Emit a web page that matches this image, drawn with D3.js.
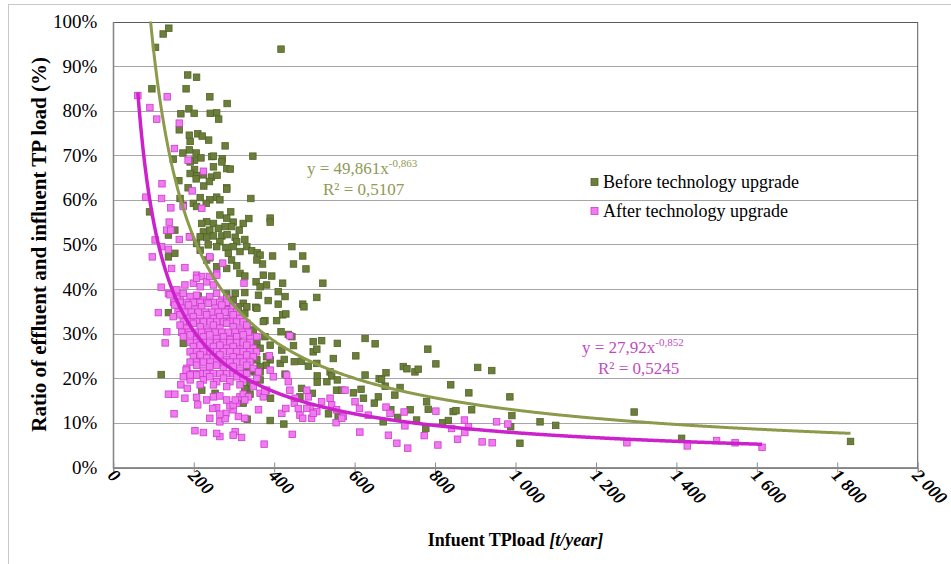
<!DOCTYPE html>
<html>
<head>
<meta charset="utf-8">
<script src="https://cdn.jsdelivr.net/npm/d3@7"></script>
<style>
	body { margin: 0; background: #fff; }
	svg { display: block; font-family: "Liberation Serif", "Times New Roman", serif; }
</style>
</head>
<body>
<div id="chart"></div>
<script>
// Ratio (%) of effluent/influent TP load vs influent TP load (t/year)
var before = [
	[124,97.2],[138,98.5],[105,94.2],[417,93.8],[96,84.9],[185,88.0],[207,87.5],[181,84.9],[240,83.1],[283,81.6],
	[188,80.4],[201,79.4],[168,79.3],[241,79.4],[257,79.5],[262,78.1],[164,75.7],[189,74.5],[210,74.8],[221,74.3],
	[237,73.4],[278,72.1],[191,73.1],[189,71.2],[173,70.5],[149,69.1],[206,70.5],[218,69.4],[245,69.7],[249,69.8],
	[271,69.2],[270,68.5],[347,69.8],[202,68.9],[191,68.5],[202,66.8],[249,67.4],[282,67.0],[291,66.9],[191,65.9],
	[207,65.4],[224,65.6],[244,65.1],[258,65.5],[163,64.3],[206,64.7],[239,64.1],[225,63.1],[186,62.7],[282,62.7],
	[342,60.3],[282,62.4],[216,60.5],[257,60.6],[265,60.0],[240,60.0],[231,59.2],[199,59.2],[207,58.5],[166,60.3],
	[174,58.8],[292,57.3],[337,55.8],[390,55.9],[390,55.0],[323,54.7],[313,53.2],[298,55.0],[282,55.9],[265,56.6],
	[249,54.7],[232,55.1],[220,54.7],[240,53.2],[261,53.6],[278,54.0],[294,54.0],[224,52.8],[216,51.7],[232,51.6],
	[249,51.9],[270,51.9],[283,52.2],[303,51.6],[327,51.1],[307,50.6],[265,50.6],[191,51.7],[207,50.2],[236,49.9],
	[257,49.5],[280,49.3],[298,49.5],[332,49.5],[444,49.5],[315,48.4],[344,48.6],[358,48.1],[365,47.6],[396,47.4],
	[471,47.4],[286,48.0],[240,47.0],[216,48.7],[153,48.0],[137,47.2],[448,45.6],[479,44.5],[371,45.6],[357,46.5],
	[294,46.5],[307,45.2],[282,44.6],[257,45.0],[315,43.5],[327,42.9],[373,43.1],[394,42.9],[355,41.6],[365,40.5],
	[381,40.9],[421,41.3],[521,41.3],[506,38.1],[410,39.4],[427,38.3],[385,37.4],[303,39.0],[327,39.2],[323,36.8],
	[332,36.0],[410,36.6],[471,36.6],[474,36.0],[361,38.6],[283,36.0],[421,34.2],[429,34.4],[290,34.7],[377,32.9],
	[406,32.9],[417,30.4],[444,29.3],[497,28.2],[518,28.4],[557,27.8],[626,28.9],[651,27.7],[137,34.7],[90,57.3],
	[137,52.1],[153,53.2],[232,46.5],
	[119,20.8],[354,35.9],[435,29.8],[448,27.3],[419,26.3],[390,27.4],[377,29.3],[357,28.2],[348,25.6],[497,25.9],
	[506,26.5],[450,23.7],[468,23.8],[485,22.7],[506,23.3],[547,24.4],[603,25.0],[415,23.3],[425,24.2],[427,20.9],
	[390,24.1],[380,22.9],[365,22.6],[352,21.4],[332,21.4],[507,20.5],[539,21.4],[543,20.5],[557,19.6],[531,19.2],
	[507,19.1],[626,20.7],[661,19.9],[678,21.2],[676,18.2],[721,22.6],[730,22.1],[750,21.4],[758,22.0],[713,17.9],
	[700,16.2],[659,15.8],[649,14.4],[616,17.5],[555,17.3],[597,16.7],[622,15.5],[468,17.7],[495,16.6],[464,15.8],
	[391,15.5],[535,12.0],[559,11.4],[671,10.2],[707,11.2],[738,12.9],[424,9.7],[390,10.5],[333,10.8],[332,17.7],
	[326,15.8],[220,17.3],[207,24.5],[311,29.3],[327,34.5],
	[211,38.4],[282,38.9],[298,37.5],[311,36.0],[357,35.7],[332,32.3],[348,30.8],[373,32.7],[340,28.6],[365,26.7],
	[381,24.8],[357,24.1],[340,21.8],[365,21.4],[307,28.9],[174,27.8],[203,24.8],[340,18.8],[327,17.7],[365,19.6],
	[253,16.6],[340,16.4],[568,17.3],[323,14.4],
	[782,26.5],[802,23.2],[906,22.4],[941,21.7],[839,18.5],[884,16.7],[986,15.8],[779,14.7],[783,13.0],[891,12.9],
	[667,19.7],[690,12.9],[754,10.6],[777,8.7],[819,10.0],[833,10.5],[845,12.5],[852,12.7],[991,11.6],[988,9.1],
	[1061,10.2],[1100,9.4],[1011,5.4],[1295,12.4],[1413,6.5],[1833,5.8]
];

var after = [
	[61,83.4],[91,80.7],[134,83.1],[108,78.1],[164,77.2],[152,71.5],[186,68.9],[224,66.4],[196,62.0],[121,63.6],
	[120,60.3],[81,60.6],[143,58.2],[174,58.5],[139,55.0],[133,53.2],[143,53.2],[164,51.1],[104,51.0],[120,49.5],
	[137,48.9],[97,47.2],[145,44.6],[178,44.8],[119,40.4],[207,43.1],[220,42.8],[272,45.8],[325,41.3],[137,39.0],
	[112,34.7],[133,30.4],[129,27.9],[439,29.5],[220,58.1],
	[158,39.8],[178,40.9],[199,41.3],[216,40.5],[232,41.6],[249,40.9],[207,42.4],[240,42.8],[257,43.5],[166,38.3],
	[189,51.7],[240,47.2],[257,43.1],
	[141,38.7],[158,37.9],[174,39.0],[191,38.3],[207,38.6],[224,37.5],[240,38.3],[257,39.0],[270,37.5],[282,37.9],
	[150,37.0],[166,37.0],[183,37.0],[199,37.0],[216,37.0],[232,37.0],[249,37.0],[265,37.0],[282,37.0],
	[153,36.4],[170,35.7],[187,36.4],[203,35.3],[220,36.0],[236,36.8],[253,35.7],[270,36.4],[286,35.3],[298,36.0],
	[161,34.8],[178,34.8],[194,34.8],[211,34.8],[228,34.8],[245,34.8],[261,34.8],[278,34.8],[294,34.8],[307,34.8],
	[149,33.8],[166,34.2],[183,33.4],[199,33.8],[216,33.0],[232,34.2],[249,33.4],[265,33.8],[282,33.0],[298,34.2],[315,33.4],
	[174,32.6],[191,32.6],[207,32.6],[224,32.6],[241,32.6],[257,32.6],[274,32.6],[290,32.6],[307,32.6],[323,32.6],
	[166,31.9],[183,31.2],[199,32.3],[216,31.5],[232,30.8],[249,31.9],[265,31.2],[282,32.3],[298,31.5],[315,30.8],[332,31.9],
	[170,30.3],[187,30.3],[203,30.3],[220,30.3],[236,30.3],[253,30.3],[270,30.3],[286,30.3],[303,30.3],[320,30.3],[336,30.3],
	[174,29.3],[191,29.7],[207,28.6],[224,29.3],[240,29.7],[257,28.9],[274,29.3],[290,28.6],[307,29.3],[323,29.7],[340,28.9],[357,29.3],
	[191,28.0],[207,28.0],[224,28.0],[240,28.0],[257,28.0],[274,28.0],[290,28.0],[307,28.0],[323,28.0],[340,28.0],
	[199,27.1],[216,27.4],[232,26.3],[249,27.1],[265,27.4],[282,26.7],[298,27.1],[315,26.3],[332,27.4],[348,26.7],
	[191,25.9],[207,25.9],[224,25.9],[241,25.9],[257,25.9],[274,25.9],[290,25.9],[307,25.9],[323,25.9],[340,25.9],[356,25.9],
	[199,24.8],[216,25.2],[232,24.5],[249,24.8],[265,25.2],[282,24.1],[298,24.8],[315,24.5],[332,25.2],[348,24.8],
	[191,23.6],[207,23.6],[224,23.6],[241,23.6],[257,23.6],[274,23.6],[290,23.6],[307,23.6],[323,23.6],[340,23.6],
	[183,22.2],[207,22.9],[224,21.8],[240,22.6],[257,22.9],[274,22.2],[298,22.6],[315,21.8],[332,22.9],[348,22.2],
	[183,21.0],[199,21.0],[216,21.0],[232,21.0],[249,21.0],[265,21.0],[282,21.0],[298,21.0],[315,21.0],[332,21.0],
	[174,20.3],[191,19.6],[207,20.7],[224,19.6],[240,20.3],[257,19.2],[274,20.0],[290,19.2],[307,20.3],[323,19.6],[357,20.0],
	[216,18.5],[249,18.5],[282,18.1],[315,18.5],
	[181,21.8],[191,20.7],[168,18.5],[184,17.7],[137,16.4],[153,16.4],[178,15.5],[207,15.7],[210,14.0],[151,12.0],
	[232,15.1],[249,15.8],[265,16.0],[257,13.4],[247,13.2],[280,12.1],[240,11.0],[265,10.2],[278,10.9],[298,12.9],
	[307,14.4],[315,15.8],[323,16.4],[336,15.8],[290,13.8],[311,11.4],[327,11.0],[361,12.9],[365,16.6],[348,18.1],
	[381,17.3],[398,20.3],[390,21.8],[435,19.2],[439,17.3],[419,12.1],[429,13.2],[450,14.4],[460,13.2],[464,11.7],
	[471,11.0],[485,15.8],[489,13.6],[493,11.0],[506,12.5],[481,17.3],[539,15.5],[543,14.0],[555,12.9],[554,10.0],
	[576,17.3],[572,11.4],[601,14.7],[612,13.2],[613,7.9],[634,11.7],[678,13.5],[688,12.1],[723,12.4],[725,9.3],
	[684,7.2],[705,5.4],[732,4.3],[445,7.4],[375,5.2],[319,6.7],[303,8.0],[298,7.2],[265,6.9],[257,7.6],
	[224,7.8],[203,8.2],[373,15.8],[388,25.0],[361,21.4],[431,20.7],
	[265,11.9],[282,15.1],[298,14.0],[303,15.1],[327,15.1],[377,17.0],[452,15.5],[481,13.2],[497,12.1],[518,14.7],[568,11.0],
	[773,7.1],[802,12.6],[807,5.0],[841,8.7],[856,6.3],[873,10.6],[874,7.8],[883,9.1],[917,5.7],[942,5.5],
	[953,10.2],[981,9.7],[1277,5.5],[1427,4.8],[1500,6.0],[1546,5.5],[1613,4.5]
];

// power trendlines y = a * x^b (y as a fraction)
var fitBefore = [49.861, -0.863];
var fitAfter = [27.92, -0.852];
var eqBefore = ["y = 49,861x", "-0,863", "R\u00b2 = 0,5107"];
var eqAfter = ["y = 27,92x", "-0,852", "R\u00b2 = 0,5245"];

var xTicks = [0, 200, 400, 600, 800, 1000, 1200, 1400, 1600, 1800, 2000];
var yTicks = [0, 10, 20, 30, 40, 50, 60, 70, 80, 90, 100];
var legendLabels = ["Before technology upgrade", "After technology upgrade"];

var width = 951;
var height = 564;
var margin = { top: 21.5, right: 33.3, bottom: 96.7, left: 113.3 };

var svg = d3.select("#chart").append("svg")
	.attr("width", width)
	.attr("height", height);

// outer chart frame (only top/left edges fall inside the picture)
svg.append("rect")
	.attr("x", 8.5).attr("y", 4.5)
	.attr("width", 1000).attr("height", 700)
	.attr("fill", "none")
	.attr("stroke", "#c8c8c8");

var x = d3.scaleLinear().domain([0, 2000]).range([margin.left, width - margin.right]);
var y = d3.scaleLinear().domain([0, 100]).range([height - margin.bottom, margin.top]);

var green = "#6c7f3a", greenEdge = "#52632a", greenLine = "#8c9a4c";
var pink = "#f07af0", pinkEdge = "#cc3dcc", pinkLine = "#cc22cc";

// gridlines
svg.append("g")
	.selectAll("line")
	.data(yTicks)
	.join("line")
	.attr("x1", x(0)).attr("x2", x(2000))
	.attr("y1", (d) => Math.round(y(d)) + 0.5)
	.attr("y2", (d) => Math.round(y(d)) + 0.5)
	.attr("stroke", "#a6a6a6");

// plot area border
svg.append("rect")
	.attr("x", x(0)).attr("y", Math.round(y(100)) + 0.5)
	.attr("width", x(2000) - x(0))
	.attr("height", y(0) - y(100))
	.attr("fill", "none")
	.attr("stroke", "#5a5a5a");

// Y axis
var yAxis = svg.append("g")
	.attr("transform", `translate(${x(0)}, 0)`)
	.call(d3.axisLeft(y).tickValues(yTicks).tickSize(0).tickPadding(16).tickFormat((d) => d + "%"));
yAxis.select(".domain").attr("stroke", "#8c8c8c");
yAxis.selectAll("text")
	.attr("font-family", "Liberation Serif, serif")
	.attr("font-size", "19px")
	.attr("fill", "#000");

// X axis
var fr = d3.formatLocale({ decimal: ",", thousands: " ", grouping: [3], currency: ["", ""] });
var xAxis = svg.append("g")
	.attr("transform", `translate(0, ${Math.round(y(0)) + 0.5})`)
	.call(d3.axisBottom(x).tickValues(xTicks).tickSize(5).tickFormat(fr.format(",")));
xAxis.select(".domain").attr("stroke", "#8c8c8c");
xAxis.selectAll(".tick line").attr("stroke", "#8c8c8c").attr("y1", -5);
xAxis.selectAll("text")
	.attr("font-family", "Liberation Serif, serif")
	.attr("font-size", "18px")
	.attr("font-weight", "bold")
	.attr("font-style", "italic")
	.attr("fill", "#000")
	.attr("text-anchor", "start")
	.attr("dy", null)
	.attr("y", 0)
	.attr("transform", "translate(-7, 9) rotate(45)");

// points + trendlines clipped to the plot area
svg.append("clipPath").attr("id", "plot-clip")
	.append("rect")
	.attr("x", x(0)).attr("y", y(100))
	.attr("width", x(2000) - x(0)).attr("height", y(0) - y(100));

var plot = svg.append("g").attr("clip-path", "url(#plot-clip)");
var sq = 6.5;

plot.append("g")
	.selectAll("rect")
	.data(before)
	.join("rect")
	.attr("x", (d) => x(d[0]) - sq / 2)
	.attr("y", (d) => y(d[1]) - sq / 2)
	.attr("width", sq).attr("height", sq)
	.attr("fill", green)
	.attr("stroke", greenEdge)
	.attr("stroke-width", 0.8);

plot.append("g")
	.selectAll("rect")
	.data(after)
	.join("rect")
	.attr("x", (d) => x(d[0]) - sq / 2)
	.attr("y", (d) => y(d[1]) - sq / 2)
	.attr("width", sq).attr("height", sq)
	.attr("fill", pink)
	.attr("stroke", pinkEdge)
	.attr("stroke-width", 0.8);

function trend(pts, fit) {
	var ext = d3.extent(pts, (d) => d[0]);
	var xs = d3.range(ext[0], ext[1], 2).concat([ext[1]]);
	return xs.map((v) => [v, 100 * fit[0] * Math.pow(v, fit[1])]);
}
var line = d3.line().x((d) => x(d[0])).y((d) => y(d[1]));

plot.append("path")
	.datum(trend(before, fitBefore))
	.attr("d", line)
	.attr("fill", "none")
	.attr("stroke", greenLine)
	.attr("stroke-width", 3);

plot.append("path")
	.datum(trend(after, fitAfter))
	.attr("d", line)
	.attr("fill", "none")
	.attr("stroke", pinkLine)
	.attr("stroke-width", 3.5);

// equation labels
function equation(eq, x0, yb, color) {
	var t1 = svg.append("text")
		.attr("x", x0).attr("y", yb)
		.attr("font-size", "17px")
		.attr("fill", color);
	t1.append("tspan").text(eq[0]);
	t1.append("tspan").attr("font-size", "11px").attr("dy", -7).text(eq[1]);
	svg.append("text")
		.attr("x", x0 + 16).attr("y", yb + 21)
		.attr("font-size", "17px")
		.attr("fill", color)
		.text(eq[2]);
}
equation(eqBefore, 307, 174, "#8f9a55");
equation(eqAfter, 582, 353, "#bf4cbf");

// legend
var legend = svg.append("g").attr("transform", "translate(591, 182)");
legend.selectAll("rect")
	.data(legendLabels)
	.join("rect")
	.attr("x", 0).attr("y", (d, i) => i * 29 - 3.5)
	.attr("width", 7).attr("height", 7)
	.attr("fill", (d, i) => (i ? pink : green))
	.attr("stroke", (d, i) => (i ? pinkEdge : greenEdge))
	.attr("stroke-width", 0.8);
legend.selectAll("text")
	.data(legendLabels)
	.join("text")
	.attr("x", 12).attr("y", (d, i) => i * 29 + 6)
	.attr("font-size", "18px")
	.attr("fill", "#000")
	.text((d) => d);

// axis titles
svg.append("text")
	.attr("transform", `translate(46, ${(y(0) + y(100)) / 2}) rotate(-90)`)
	.attr("text-anchor", "middle")
	.attr("font-size", "21px")
	.attr("font-weight", "bold")
	.text("Ratio of effluent and influent TP load (%)");

var xt = svg.append("text")
	.attr("x", (x(0) + x(2000)) / 2)
	.attr("y", 546)
	.attr("text-anchor", "middle")
	.attr("font-size", "18px")
	.attr("font-weight", "bold");
xt.append("tspan").text("Infuent TPload ");
xt.append("tspan").attr("font-style", "italic").text("[t/year]");
</script>
</body>
</html>
